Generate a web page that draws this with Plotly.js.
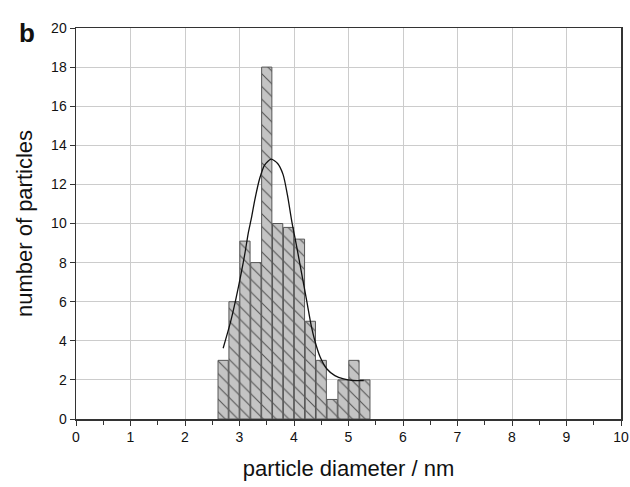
<!DOCTYPE html>
<html>
<head>
<meta charset="utf-8">
<script src="https://cdn.plot.ly/plotly-3.0.1.min.js"></script>
<style>html,body{margin:0;padding:0;background:#fff;}#chart{width:630px;height:487px;}</style>
</head>
<body>
<div id="chart"></div>
<script>
// Histogram bins (bin centres, nm) and counts
var binCenters = [2.7, 2.9, 3.1, 3.3, 3.5, 3.7, 3.9, 4.1, 4.3, 4.5, 4.7, 4.9, 5.1, 5.3];
var counts     = [3, 6, 9.1, 8, 18, 10, 9.8, 9.2, 5, 3, 1, 2, 3, 2];
var binWidth = 0.2;

// Fitted curve
var fitX = [2.70, 2.83, 2.93, 3.03, 3.10, 3.16, 3.22, 3.28, 3.37, 3.46, 3.58, 3.70, 3.80, 3.88, 3.96, 4.05, 4.14, 4.23, 4.32, 4.38, 4.48, 4.60, 4.75, 4.91, 5.09, 5.28];
var fitY = [3.62, 4.90, 6.09, 7.45, 8.48, 9.50, 10.3, 11.2, 12.3, 12.99, 13.29, 13.07, 12.5, 11.45, 10.1, 8.8, 7.45, 6.09, 4.72, 4.03, 3.17, 2.57, 2.22, 2.05, 1.97, 1.97];

var xTickVals = [0,1,2,3,4,5,6,7,8,9,10];
var yTickVals = [0,2,4,6,8,10,12,14,16,18,20];

var widths = binCenters.map(function(){ return binWidth * 0.94; });

var traces = [
  {
    type: 'bar',
    x: binCenters,
    y: counts,
    width: widths,
    marker: {
      color: '#c4c4c4',
      line: {color: '#555555', width: 1},
      pattern: {shape: '\\', fgcolor: '#555555', bgcolor: '#c4c4c4', size: 9, solidity: 0.12}
    },
    hoverinfo: 'skip',
    showlegend: false
  },
  {
    type: 'scatter',
    mode: 'lines',
    x: fitX,
    y: fitY,
    line: {color: '#111111', width: 1.3, shape: 'spline', smoothing: 0.7},
    hoverinfo: 'skip',
    showlegend: false
  }
];

var layout = {
  width: 630,
  height: 487,
  margin: {l: 76, r: 9, t: 28, b: 68},
  paper_bgcolor: '#ffffff',
  plot_bgcolor: '#ffffff',
  font: {family: 'Liberation Sans, Arial, sans-serif', color: '#111111', size: 14},
  bargap: 0,
  xaxis: {
    range: [0, 10],
    tickvals: xTickVals,
    ticktext: xTickVals.map(String),
    showgrid: true,
    gridcolor: '#cccccc',
    gridwidth: 1,
    zeroline: false,
    showline: true,
    linecolor: '#333333',
    linewidth: 1.5,
    mirror: true,
    ticks: 'outside',
    ticklen: 5,
    tickcolor: '#333333',
    minor: {dtick: 0.5, ticks: 'outside', ticklen: 4, tickcolor: '#333333', showgrid: false},
    tickfont: {size: 14},
    title: {text: 'particle diameter / nm', font: {size: 22}, standoff: 16}
  },
  yaxis: {
    range: [0, 20],
    tickvals: yTickVals,
    ticktext: yTickVals.map(String),
    showgrid: true,
    gridcolor: '#cccccc',
    gridwidth: 1,
    zeroline: false,
    showline: true,
    linecolor: '#333333',
    linewidth: 1.5,
    mirror: true,
    ticks: 'outside',
    ticklen: 5,
    tickcolor: '#333333',
    tickfont: {size: 14},
    title: {text: 'number of particles', font: {size: 22}, standoff: 12}
  },
  annotations: [
    {text: '<b>b</b>', xref: 'paper', yref: 'paper', x: -0.108, y: 0.987, xanchor: 'left', yanchor: 'middle',
     showarrow: false, font: {size: 26, color: '#111111'}}
  ]
};

Plotly.newPlot('chart', traces, layout, {displayModeBar: false, staticPlot: true});
</script>
</body>
</html>
